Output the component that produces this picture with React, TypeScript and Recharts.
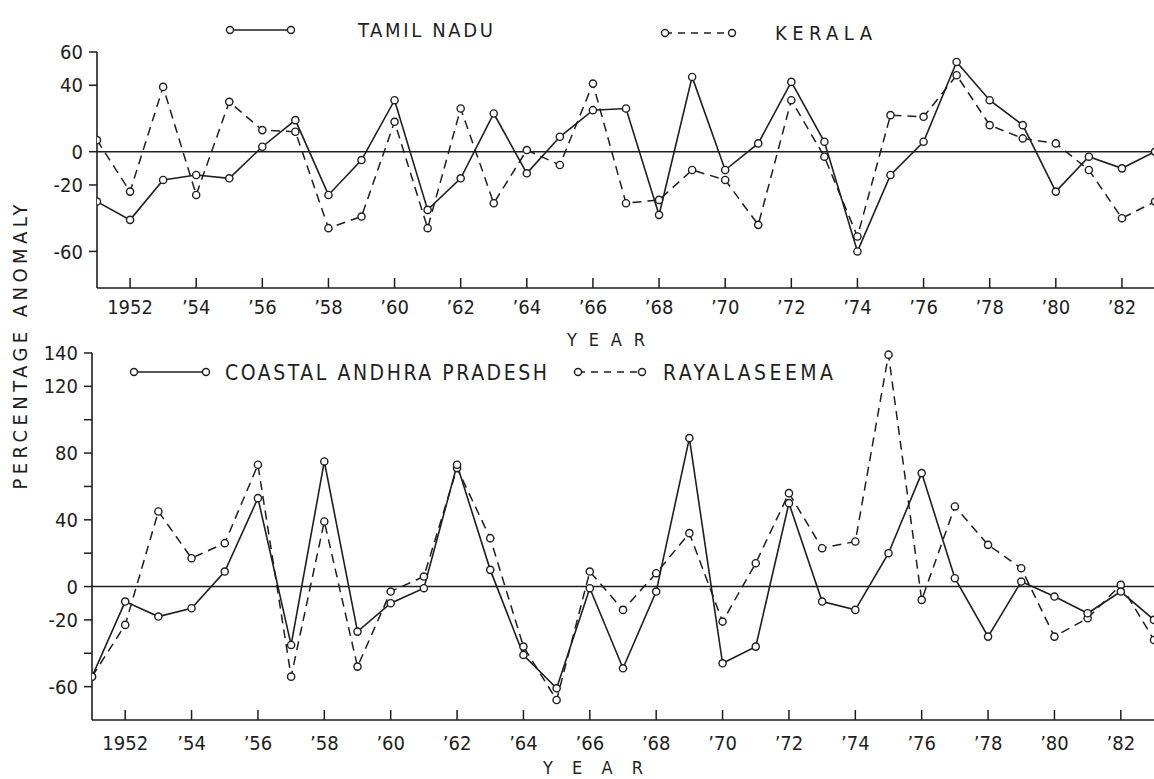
import React from "react";
import { LineChart, Line, XAxis, YAxis, ReferenceLine } from "recharts";

const years = [
  1951, 1952, 1953, 1954, 1955, 1956, 1957, 1958, 1959, 1960, 1961, 1962, 1963, 1964, 1965, 1966, 1967,
  1968, 1969, 1970, 1971, 1972, 1973, 1974, 1975, 1976, 1977, 1978, 1979, 1980, 1981, 1982, 1983,
];

// percentage anomaly
const tamilNadu = [
  -30, -41, -17, -14, -16, 3, 19, -26, -5, 31, -35, -16, 23, -13, 9, 25, 26, -38, 45, -11, 5, 42, 6, -60,
  -14, 6, 54, 31, 16, -24, -3, -10, 0,
];
const kerala = [
  7, -24, 39, -26, 30, 13, 12, -46, -39, 18, -46, 26, -31, 1, -8, 41, -31, -29, -11, -17, -44, 31, -3, -51,
  22, 21, 46, 16, 8, 5, -11, -40, -30,
];
const coastalAndhra = [
  -54, -9, -18, -13, 9, 53, -35, 75, -27, -10, -1, 73, 10, -41, -61, -1, -49, -3, 89, -46, -36, 50, -9, -14,
  20, 68, 5, -30, 3, -6, -16, -3, -20,
];
const rayalaseema = [
  -54, -23, 45, 17, 26, 73, -54, 39, -48, -3, 6, 71, 29, -36, -68, 9, -14, 8, 32, -21, 14, 56, 23, 27, 139,
  -8, 48, 25, 11, -30, -19, 1, -32,
];

const yearTicks = [1952, 1954, 1956, 1958, 1960, 1962, 1964, 1966, 1968, 1970, 1972, 1974, 1976, 1978, 1980, 1982];
const yearLabels = ["1952", "’54", "’56", "’58", "’60", "’62", "’64", "’66", "’68", "’70", "’72", "’74", "’76", "’78", "’80", "’82"];

const topTicks = [-60, -20, 0, 40, 60];
const topLabeled = [60, 40, 0, -20, -60];
const bottomTicks = [-60, -40, -20, 0, 20, 40, 60, 80, 100, 120, 140];
const bottomLabeled = [140, 120, 80, 40, 0, -20, -60];

const topData = years.map((year, i) => ({ year, tamilNadu: tamilNadu[i], kerala: kerala[i] }));
const bottomData = years.map((year, i) => ({ year, coastal: coastalAndhra[i], rayalaseema: rayalaseema[i] }));

const ink = "#1e1e1e";
const font = '"DejaVu Sans Condensed", "DejaVu Sans", sans-serif';
const dash = "9 6";

const YearTick = (props: any) => {
  const { x, y, payload, offset } = props;
  const idx = yearTicks.indexOf(payload.value);
  return (
    <g>
      <line x1={x} y1={y} x2={x} y2={y - 10} stroke={ink} strokeWidth={1.5} />
      <text x={x} y={y + offset} textAnchor="middle" fill={ink} fontSize={20} fontFamily={font}>
        {idx >= 0 ? yearLabels[idx] : ""}
      </text>
    </g>
  );
};

const dotStyle = { r: 3.6, fill: "#fff", stroke: ink, strokeWidth: 1.4, strokeDasharray: "none" };

const LegendItem = ({ x1, x2, y, dashed }: { x1: number; x2: number; y: number; dashed?: boolean }) => (
  <g>
    <line x1={x1} y1={y} x2={x2} y2={y} stroke={ink} strokeWidth={1.5} strokeDasharray={dashed ? "7 6" : undefined} />
    <circle cx={x1} cy={y} r={3.5} fill="#fff" stroke={ink} strokeWidth={1.4} />
    <circle cx={x2} cy={y} r={3.5} fill="#fff" stroke={ink} strokeWidth={1.4} />
  </g>
);

export default function App() {
  return (
    <div style={{ position: "absolute", left: 0, top: 0, width: 1154, height: 779, overflow: "hidden", background: "#fff" }}>
      <div style={{ position: "absolute", left: 0, top: 0 }}>
        <LineChart width={1200} height={330} data={topData} margin={{ top: 52, right: 45, bottom: 0, left: 37 }}>
          <XAxis
            dataKey="year"
            type="number"
            domain={[1951, 1983]}
            ticks={yearTicks}
            allowDataOverflow
            height={42}
            tickSize={0}
            tickMargin={0}
            tickLine={false}
            axisLine={{ stroke: ink, strokeWidth: 1.6 }}
            tick={(p: any) => <YearTick {...p} offset={26} />}
          />
          <YAxis
            type="number"
            domain={[-82, 60]}
            ticks={topTicks}
            width={60}
            tickSize={8}
            tickMargin={6}
            tickLine={{ stroke: ink, strokeWidth: 1.5 }}
            axisLine={{ stroke: ink, strokeWidth: 1.6 }}
            tickFormatter={(v: number) => (topLabeled.includes(v) ? String(v) : "")}
            tick={{ fill: ink, fontSize: 20, fontFamily: font }}
          />
          <ReferenceLine y={0} stroke={ink} strokeWidth={1.6} />
          <Line
            type="linear"
            dataKey="kerala"
            stroke={ink}
            strokeWidth={1.5}
            strokeDasharray={dash}
            dot={dotStyle}
            isAnimationActive={false}
          />
          <Line type="linear" dataKey="tamilNadu" stroke={ink} strokeWidth={1.6} dot={dotStyle} isAnimationActive={false} />
        </LineChart>
      </div>
      <div style={{ position: "absolute", left: 0, top: 330 }}>
        <LineChart width={1200} height={449} data={bottomData} margin={{ top: 23, right: 46, bottom: 0, left: 32 }}>
          <XAxis
            dataKey="year"
            type="number"
            domain={[1951, 1983]}
            ticks={yearTicks}
            allowDataOverflow
            height={59}
            tickSize={0}
            tickMargin={0}
            tickLine={false}
            axisLine={{ stroke: ink, strokeWidth: 1.6 }}
            tick={(p: any) => <YearTick {...p} offset={30} />}
          />
          <YAxis
            type="number"
            domain={[-80, 140]}
            ticks={bottomTicks}
            width={60}
            tickSize={8}
            tickMargin={6}
            tickLine={{ stroke: ink, strokeWidth: 1.5 }}
            axisLine={{ stroke: ink, strokeWidth: 1.6 }}
            tickFormatter={(v: number) => (bottomLabeled.includes(v) ? String(v) : "")}
            tick={{ fill: ink, fontSize: 20, fontFamily: font }}
          />
          <ReferenceLine y={0} stroke={ink} strokeWidth={1.6} />
          <Line
            type="linear"
            dataKey="rayalaseema"
            stroke={ink}
            strokeWidth={1.5}
            strokeDasharray={dash}
            dot={dotStyle}
            isAnimationActive={false}
          />
          <Line type="linear" dataKey="coastal" stroke={ink} strokeWidth={1.6} dot={dotStyle} isAnimationActive={false} />
        </LineChart>
      </div>
      <svg
        width={1154}
        height={779}
        style={{ position: "absolute", left: 0, top: 0, pointerEvents: "none" }}
        fontFamily={font}
        fill={ink}
      >
        <LegendItem x1={230} x2={291} y={30} />
        <text x={358} y={37} fontSize={20} textLength={135} lengthAdjust="spacing">TAMIL NADU</text>
        <LegendItem x1={665} x2={732} y={33} dashed />
        <text x={775} y={40} fontSize={20} textLength={97} lengthAdjust="spacing">KERALA</text>

        <LegendItem x1={134} x2={206} y={372} />
        <text x={225} y={380} fontSize={21} textLength={322} lengthAdjust="spacing">COASTAL ANDHRA PRADESH</text>
        <LegendItem x1={578} x2={642} y={372} dashed />
        <text x={663} y={380} fontSize={21} textLength={170} lengthAdjust="spacing">RAYALASEEMA</text>

        <text x={567} y={346} fontSize={18} textLength={78} lengthAdjust="spacing">YEAR</text>
        <text x={543} y={774} fontSize={18} textLength={100} lengthAdjust="spacing">YEAR</text>

        <g transform="translate(20,347) rotate(-90)">
          <text x={0} y={7} fontSize={20} textAnchor="middle" textLength={285} lengthAdjust="spacing">
            PERCENTAGE ANOMALY
          </text>
        </g>
      </svg>
    </div>
  );
}
